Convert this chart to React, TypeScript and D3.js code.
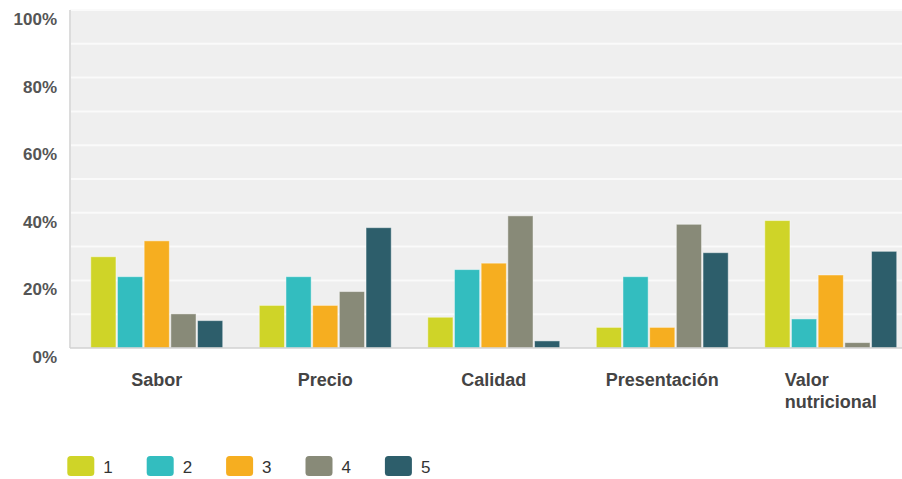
import React from "react";
import * as d3 from "d3";

// Survey results: share of responses per rating (1–5) for each attribute
const categories = ["Sabor", "Precio", "Calidad", "Presentación", "Valor nutricional"];
const seriesNames = ["1", "2", "3", "4", "5"];
const seriesColors = ["#cfd428", "#33bdbf", "#f6ae20", "#888a78", "#2d5e6b"];
const yTicks = [0, 0.2, 0.4, 0.6, 0.8, 1];
const gridTicks = [0.1, 0.2, 0.3, 0.4, 0.5, 0.6, 0.7, 0.8, 0.9, 1];

// values[category][series] in percent
const valuesSabor = [27.0, 21.1, 31.7, 10.1, 8.1];
const valuesPrecio = [12.6, 21.1, 12.6, 16.7, 35.6];
const valuesCalidad = [9.1, 23.2, 25.1, 39.1, 2.1];
const valuesPresentacion = [6.1, 21.1, 6.1, 36.6, 28.2];
const valuesValor = [37.7, 8.6, 21.6, 1.6, 28.6];
const values = [valuesSabor, valuesPrecio, valuesCalidad, valuesPresentacion, valuesValor];

const W = 902;
const H = 479;
const plotLeft = 70;
const plotRight = 902;
const plotTop = 10;
const plotBottom = 348;
const fontFamily = "'Liberation Sans', Arial, sans-serif";

function textWidth(text: string, font: string): number {
  if (typeof document === "undefined") return text.length * 9;
  const c = document.createElement("canvas");
  const ctx = c.getContext("2d");
  if (!ctx) return text.length * 9;
  ctx.font = font;
  return ctx.measureText(text).width;
}

export default function App() {
  const x = d3
    .scaleBand<string>()
    .domain(categories)
    .range([72.5, 72.5 + 842.5])
    .paddingInner(0.208)
    .paddingOuter(0.104);
  const xs = d3
    .scaleBand<string>()
    .domain(seriesNames)
    .range([0, x.bandwidth()])
    .padding(0);
  const y = d3.scaleLinear().domain([0, 1]).range([plotBottom, plotTop]);
  const pct = d3.format(".0%");

  const labelFont = `bold 18px ${fontFamily}`;
  const legendStep = 79.4;

  return (
    <svg
      width={W}
      height={H}
      style={{ position: "absolute", left: 0, top: 0, display: "block" }}
      fontFamily={fontFamily}
    >
      <rect x={0} y={0} width={W} height={H} fill="#ffffff" />
      {/* plot background */}
      <rect
        x={plotLeft}
        y={plotTop}
        width={plotRight - plotLeft}
        height={plotBottom - plotTop}
        fill="#efefef"
      />
      {/* gridlines */}
      {gridTicks.map((t) => (
        <line
          key={t}
          x1={plotLeft}
          x2={plotRight}
          y1={y(t)}
          y2={y(t)}
          stroke="#fafafa"
          strokeWidth={2}
        />
      ))}
      {/* left axis line */}
      <line x1={plotLeft} x2={plotLeft} y1={plotTop} y2={plotBottom} stroke="#dcdcdc" strokeWidth={2} />

      {/* bars */}
      {categories.map((cat, ci) => (
        <g key={cat} transform={`translate(${x(cat)},0)`}>
          {seriesNames.map((s, si) => {
            const v = values[ci][si] / 100;
            return (
              <rect
                key={s}
                x={(xs(s) as number) + 0.75}
                y={y(v)}
                width={xs.bandwidth() - 1.5}
                height={plotBottom - y(v)}
                fill={seriesColors[si]}
                stroke="rgba(255,255,255,0.45)"
                strokeWidth={1}
              />
            );
          })}
        </g>
      ))}

      {/* baseline */}
      <line x1={plotLeft} x2={plotRight} y1={plotBottom} y2={plotBottom} stroke="#d2d2d2" strokeWidth={1.5} />

      {/* y-axis labels */}
      {yTicks.map((t) => (
        <text
          key={t}
          x={57}
          y={y(t) + 15}
          textAnchor="end"
          fontSize={17}
          fontWeight="bold"
          fill="#555555"
        >
          {pct(t)}
        </text>
      ))}

      {/* category labels (wrapped at word boundaries when too wide) */}
      {categories.map((cat) => {
        const cx = (x(cat) as number) + x.bandwidth() / 2;
        const words = cat.split(" ");
        const lines = textWidth(cat, labelFont) > x.bandwidth() - 10 && words.length > 1 ? words : [cat];
        const widest = Math.max(...lines.map((l) => textWidth(l, labelFont)));
        const left = cx - widest / 2;
        return (
          <text key={cat} fontSize={18} fontWeight="bold" fill="#444444">
            {lines.map((l, li) => (
              <tspan key={li} x={lines.length > 1 ? left : cx} y={386 + li * 21.5} textAnchor={lines.length > 1 ? "start" : "middle"}>
                {l}
              </tspan>
            ))}
          </text>
        );
      })}

      {/* legend */}
      {seriesNames.map((s, si) => (
        <g key={s} transform={`translate(${67.3 + si * legendStep},456)`}>
          <rect width={27} height={20} rx={3.5} fill={seriesColors[si]} />
          <text x={36} y={16.7} fontSize={17} fill="#333333">
            {s}
          </text>
        </g>
      ))}
    </svg>
  );
}
